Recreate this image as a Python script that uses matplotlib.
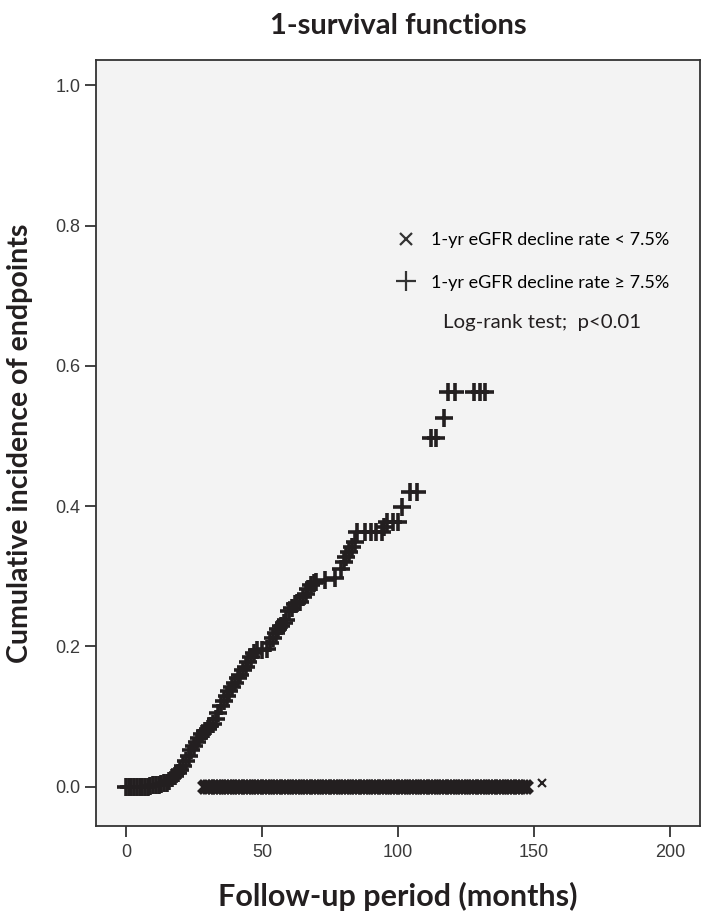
import matplotlib
matplotlib.use("Agg")
import matplotlib.pyplot as plt
from matplotlib.lines import Line2D

# group 1: 1-yr eGFR decline rate >= 7.5%  (censor marks "+")
high_t = [0, 1, 2, 3, 4, 5, 6, 7, 8, 9, 10, 11, 12, 13, 14, 15, 16, 17, 18, 19,
          20, 21, 22, 23, 24, 25, 26, 27, 28, 29, 30, 31, 32, 33, 34, 35, 36, 37,
          38, 39, 40, 41, 42, 43, 44, 45, 46, 47, 48, 50, 52, 53, 54, 55, 56, 57,
          58, 59, 60, 61, 62, 63, 64, 65, 66, 67, 68, 69, 70, 73, 77, 79, 80, 81,
          82, 83, 84, 85, 88, 90, 92, 94, 95, 96, 98, 100, 101.5, 104.5, 107,
          112, 114, 117, 118.5, 121, 128, 130, 132]
high_inc = [0.0, 0.0, 0.0, 0.0, 0.0, 0.0, 0.0, 0.0, 0.0, 0.001, 0.002, 0.002, 0.003,
            0.004, 0.005, 0.006, 0.008, 0.012, 0.016, 0.020, 0.024, 0.030, 0.036,
            0.044, 0.053, 0.058, 0.064, 0.070, 0.075, 0.080, 0.083, 0.087, 0.090,
            0.097, 0.105, 0.115, 0.122, 0.130, 0.137, 0.142, 0.148, 0.155, 0.160,
            0.166, 0.171, 0.178, 0.185, 0.190, 0.195, 0.195, 0.196, 0.205, 0.212,
            0.219, 0.225, 0.229, 0.233, 0.238, 0.250, 0.255, 0.260, 0.262, 0.264,
            0.270, 0.275, 0.282, 0.287, 0.290, 0.292, 0.295, 0.298, 0.310, 0.320,
            0.327, 0.335, 0.342, 0.349, 0.363, 0.363, 0.363, 0.363, 0.363, 0.370,
            0.377, 0.377, 0.377, 0.399, 0.420, 0.420, 0.497, 0.497, 0.526, 0.563,
            0.563, 0.563, 0.563, 0.563]

# group 2: 1-yr eGFR decline rate < 7.5%  (censor marks "x"), no events
low_t = [29, 30, 31, 32, 33, 34, 35, 36, 37, 38, 39, 40, 41, 42, 43, 44, 45, 46,
         47, 48, 49, 50, 51, 52, 53, 54, 55, 56, 57, 58, 59, 60, 61, 62, 63, 64,
         65, 66, 67, 68, 69, 70, 71, 72, 73, 74, 75, 76, 77, 78, 79, 80, 81, 82,
         83, 84, 85, 86, 87, 88, 89, 90, 91, 92, 93, 94, 95, 96, 97, 98, 99, 100,
         101, 102, 103, 104, 105, 106, 107, 108, 109, 110, 111, 112, 113, 114, 115,
         116, 117, 118, 119, 120, 121, 122, 123, 124, 125, 126, 127, 128, 129, 130,
         131, 132, 133, 134, 135, 136, 137, 138, 139, 140, 141, 142, 143, 144, 145,
         146, 147]
low_inc = [0.0] * len(low_t)
low_last_t = [153]
low_last_inc = [0.005]

labels = ["1-yr eGFR decline rate < 7.5%", "1-yr eGFR decline rate \u2265 7.5%"]
x_ticks = [0, 50, 100, 150, 200]
y_ticks = [0.0, 0.2, 0.4, 0.6, 0.8, 1.0]

ink = "#231f20"

fig = plt.figure(figsize=(7.04, 9.18), dpi=100)
ax = fig.add_axes([0.1364, 0.1002, 0.858, 0.8344])
ax.set_facecolor("#f3f3f3")

# censor marks
ax.plot(high_t, high_inc, ls="none", marker="+", ms=13, mew=2.6, color=ink)
ax.plot(low_t, low_inc, ls="none", marker="x", ms=8, mew=4, color=ink)
ax.plot(low_last_t, low_last_inc, ls="none", marker="x", ms=6, mew=1.5, color=ink)

ax.set_xlim(-11, 211)
ax.set_ylim(-0.056, 1.036)
ax.set_xticks(x_ticks)
ax.set_yticks(y_ticks)
ax.set_yticklabels([f"{v:.1f}" for v in y_ticks])
ax.tick_params(axis="both", length=8, width=1.3, color="#333333",
               labelsize=13, labelcolor="#3a3a3a")
ax.tick_params(axis="x", pad=5)
ax.tick_params(axis="y", pad=3)
for lab in ax.get_xticklabels() + ax.get_yticklabels():
    lab.set_family("Liberation Sans")
for sp in ax.spines.values():
    sp.set_color("#333333")
    sp.set_linewidth(1.3)

ax.set_title("1-survival functions", fontsize=21, fontweight="bold",
             family="Lato", color=ink, pad=19)
ax.set_xlabel("Follow-up period (months)", fontsize=22, fontweight="bold",
              family="Lato", color=ink, labelpad=15)
ax.set_ylabel("Cumulative incidence of endpoints", fontsize=20.5, fontweight="bold",
              family="Lato", color=ink, labelpad=16)

handles = [Line2D([], [], ls="none", marker="x", ms=9, mew=1.6, color="#333333"),
           Line2D([], [], ls="none", marker="+", ms=14, mew=1.6, color="#333333")]
ax.legend(handles, labels, loc="upper left", bbox_to_anchor=(0.5285, 0.7645),
          bbox_transform=fig.transFigure, frameon=False, labelspacing=1.45,
          handletextpad=0.35, prop={"family": "Lato", "size": 13})
fig.text(0.629, 0.649, "Log-rank test;  p<0.01", fontsize=14.7, family="Lato",
         color=ink, va="center")

fig.savefig("out.png", dpi=100, facecolor="white")
